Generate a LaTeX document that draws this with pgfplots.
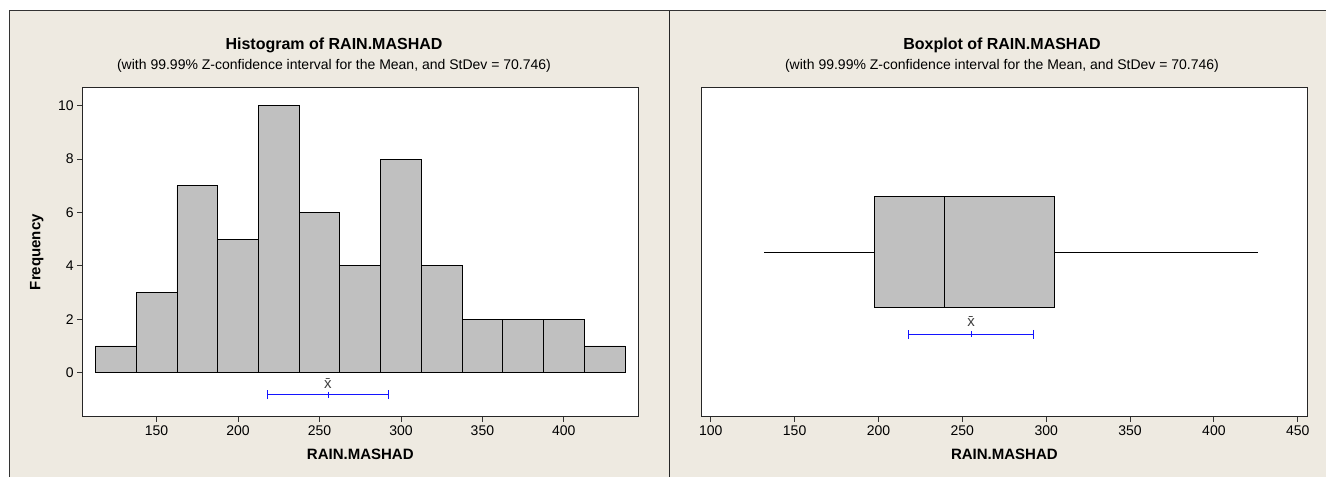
\documentclass[border=0pt]{standalone}
\usepackage{pgfplots}
\pgfplotsset{compat=1.18}
\usepgfplotslibrary{statistics}
\usepackage{fontspec}
\setmainfont{Liberation Sans}
\definecolor{panel}{RGB}{238,234,225}
\definecolor{barfill}{RGB}{192,192,192}
\definecolor{cib}{RGB}{20,20,255}
\pgfplotsset{
  minitab/.style={
    scale only axis,
    anchor=south west,
    axis background/.style={fill=white},
    tick align=outside,
    xtick pos=left, ytick pos=left,
    major tick length=5pt,
    tick style={black!80, line width=0.9pt},
    axis line style={black!85, line width=1pt},
    ticklabel style={font=\fontsize{14}{16}\selectfont},
    /pgf/number format/assume math mode=true,
    label style={font=\bfseries\fontsize{15}{17}\selectfont},
    xlabel style={at={([yshift=-38pt]axis description cs:0.5,0)}, anchor=center},
    clip=false,
  },
  ciplot/.style={cib, line width=0.9pt, mark=|, mark size=3pt,
    error bars/.cd, x dir=both, x explicit, error mark=|,
    error bar style={cib, line width=0.9pt},
    error mark options={cib, mark size=4.5pt, line width=0.9pt}},
}
\begin{document}
\begin{tikzpicture}[x=1pt,y=1pt]
\fill[white] (0,0) rectangle (1326,477);
\fill[panel] (9.3,0) rectangle (1326,466.3);
\draw[line width=1.2pt, black!80] (9.3,0) -- (9.3,466.3) -- (1326,466.3);
\draw[line width=1.6pt, black!85] (669.3,0) -- (669.3,466.3);

\node[font=\bfseries\fontsize{16}{18}\selectfont] at (334,431.7) {Histogram of RAIN.MASHAD};
\node[font=\fontsize{14}{16}\selectfont] at (334,411) {(with 99.99\% Z-confidence interval for the Mean, and StDev = 70.746)};
\node[font=\bfseries\fontsize{16}{18}\selectfont] at (1002,431.7) {Boxplot of RAIN.MASHAD};
\node[font=\fontsize{14}{16}\selectfont] at (1002,411) {(with 99.99\% Z-confidence interval for the Mean, and StDev = 70.746)};

\begin{axis}[minitab,
  at={(82.3pt,60.3pt)}, width=556pt, height=329.2pt,
  xmin=104.4, xmax=445.7, ymin=-1.65, ymax=10.68,
  xtick={150,200,...,400}, ytick={0,2,...,10},
  xlabel={RAIN.MASHAD}, ylabel={Frequency},
  ylabel style={at={([xshift=-45.6pt]axis description cs:0,0.5)}, anchor=center},
]
\addplot[ybar interval, fill=barfill, draw=black, line width=0.8pt] coordinates {
(112.5,1)(137.5,3)(162.5,7)(187.5,5)(212.5,10)(237.5,6)(262.5,4)(287.5,8)(312.5,4)(337.5,2)(362.5,2)(387.5,2)(412.5,1)(437.5,1)};
\addplot[ciplot] coordinates {(255.2,-0.824) +- (37.1,0)};
\node[font=\fontsize{15}{17}\selectfont, text=black!75] at (axis cs:255.2,-0.40) {\=x};
\end{axis}

\begin{axis}[minitab,
  at={(701.7pt,60.3pt)}, width=605.3pt, height=329.2pt,
  xmin=94.6, xmax=455.5, ymin=0, ymax=329.2,
  xtick={100,150,...,450}, ytick=\empty,
  xlabel={RAIN.MASHAD},
]
\addplot[black, line width=0.9pt, boxplot prepared={
  lower whisker=131.6, lower quartile=197.3, median=239.3,
  upper quartile=305.2, upper whisker=426.1,
  draw direction=x, draw position=164.7, box extend=110.6, whisker extend=0,
  every box/.style={draw=black, fill=barfill, line width=0.9pt},
  every whisker/.style={black, line width=0.9pt},
  every median/.style={black, line width=0.9pt}}] coordinates {};
\addplot[ciplot] coordinates {(255.2,82.4) +- (37.1,0)};
\node[font=\fontsize{15}{17}\selectfont, text=black!75] at (axis cs:255.2,95.2) {\=x};
\end{axis}
\pgfresetboundingbox
\path[use as bounding box] (0,0) rectangle (1326,477);
\end{tikzpicture}
\end{document}
